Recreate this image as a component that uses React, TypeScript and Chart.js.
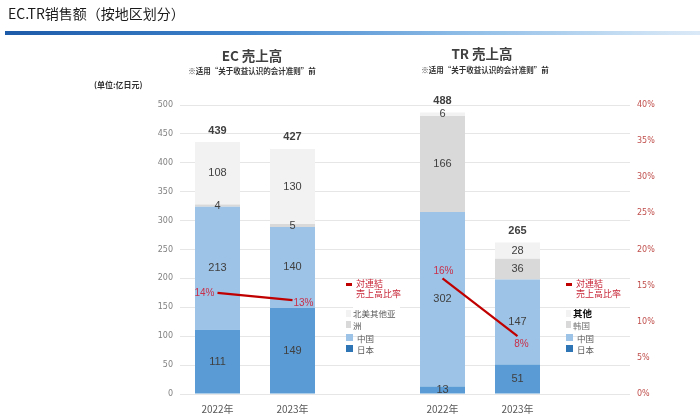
import React, { useEffect, useRef } from "react";
import { Chart, registerables } from "chart.js";

Chart.register(...registerables);

// ---- data ----
const categories = ["2022年", "2023年", "", "2022年", "2023年", ""];
const japan = [111, 149, null, 13, 51, null];
const china = [213, 140, null, 302, 147, null];
const secondRegion = [4, 5, null, 166, 36, null]; // EC: 北美其他亚洲 / TR: 韩国
const others = [108, 130, null, 6, 28, null]; // 其他
const totals = [439, 427, null, 488, 265, null];
const ecRatio = [14, 13, null, null, null, null];
const trRatio = [null, null, null, 16, 8, null];
const leftMax = 500;
const leftStep = 50;
const rightMax = 40;
const rightStep = 5;

const labelFont = "'Liberation Sans', Arial, sans-serif";

const labelPlugin = {
  id: "valueLabels",
  afterDatasetsDraw(chart: any) {
    const ctx = chart.ctx;
    ctx.save();
    ctx.textAlign = "center";
    ctx.textBaseline = "middle";
    ctx.fillStyle = "#404040";
    ctx.font = `11px ${labelFont}`;
    chart.data.datasets.forEach((ds: any, di: number) => {
      if (ds.type !== "bar") return;
      const meta = chart.getDatasetMeta(di);
      meta.data.forEach((el: any, i: number) => {
        const v = ds.data[i];
        if (v == null) return;
        const p = el.getProps(["x", "y", "base"], true);
        ctx.fillText(String(v), p.x, (p.y + p.base) / 2);
      });
    });
    // totals above the top segment
    const topIdx = chart.data.datasets.findIndex((d: any) => d.id === "others");
    const topMeta = chart.getDatasetMeta(topIdx);
    ctx.font = `bold 11px ${labelFont}`;
    totals.forEach((t, i) => {
      if (t == null) return;
      const el = topMeta.data[i];
      const p = el.getProps(["x", "y"], true);
      ctx.fillText(String(t), p.x, p.y - 11.5);
    });
    // ratio labels
    ctx.font = `10px ${labelFont}`;
    ctx.fillStyle = "#c8304a";
    const offsets: Record<string, any[]> = {
      ec: [
        { dx: -3, dy: 0, align: "right" },
        { dx: 1, dy: 3, align: "left" },
      ],
      tr: [
        { dx: 1, dy: -7, align: "center" },
        { dx: 4, dy: 8, align: "center" },
      ],
    };
    chart.data.datasets.forEach((ds: any, di: number) => {
      if (ds.type !== "line") return;
      const meta = chart.getDatasetMeta(di);
      let k = 0;
      meta.data.forEach((el: any, i: number) => {
        const v = ds.data[i];
        if (v == null) return;
        const o = offsets[ds.id][k++];
        ctx.textAlign = o.align;
        const p = el.getProps(["x", "y"], true);
        ctx.fillText(v + "%", p.x + o.dx, p.y + o.dy);
      });
    });
    ctx.restore();
  },
};

const abs = (s: React.CSSProperties): React.CSSProperties => ({
  position: "absolute",
  whiteSpace: "nowrap",
  ...s,
});

const cjk = "'Noto Sans CJK SC', 'Noto Sans', sans-serif";
const cjkJP = "'Noto Sans CJK JP', 'Noto Sans', sans-serif";

function Legend({ x, rows, boxTextX }: { x: number; rows: any[]; boxTextX: number }) {
  return (
    <>
      <div style={abs({ left: x, top: 283, width: 6, height: 2.5, background: "#c00000" })} />
      <div style={abs({ left: x + 10, top: 278.5, fontSize: 9, lineHeight: "10px", color: "#c8283a", fontFamily: cjkJP })}>
        対連結
        <br />
        売上高比率
      </div>
      {rows.map((r, i) => (
        <React.Fragment key={i}>
          <div style={abs({ left: x, top: r.y - 3.5, width: r.w, height: 7, background: r.color })} />
          <div
            style={abs({
              left: x + r.tx,
              top: r.y - 6,
              fontSize: r.size,
              lineHeight: "12px",
              color: r.textColor,
              fontWeight: r.bold ? "bold" : "normal",
              fontFamily: cjk,
              background: r.bg || "transparent",
              paddingRight: r.bg ? 4 : 0,
            })}
          >
            {r.text}
          </div>
        </React.Fragment>
      ))}
    </>
  );
}

export default function App() {
  const ref = useRef<HTMLCanvasElement | null>(null);

  useEffect(() => {
    if (!ref.current) return;
    const chart = new Chart(ref.current, {
      type: "bar",
      data: {
        labels: categories,
        datasets: [
          { id: "ec", type: "line", data: ecRatio, yAxisID: "y2", borderColor: "#c00000", borderWidth: 2.2, pointRadius: 0, order: 0, spanGaps: false } as any,
          { id: "tr", type: "line", data: trRatio, yAxisID: "y2", borderColor: "#c00000", borderWidth: 2.2, pointRadius: 0, order: 0, spanGaps: false } as any,
          { id: "japan", type: "bar", data: japan, backgroundColor: "#5b9bd5", yAxisID: "y", order: 1, stack: "s" } as any,
          { id: "china", type: "bar", data: china, backgroundColor: "#9dc3e6", yAxisID: "y", order: 1, stack: "s" } as any,
          { id: "second", type: "bar", data: secondRegion, backgroundColor: "#d9d9d9", yAxisID: "y", order: 1, stack: "s" } as any,
          { id: "others", type: "bar", data: others, backgroundColor: "#f2f2f2", yAxisID: "y", order: 1, stack: "s" } as any,
        ],
      },
      options: {
        responsive: false,
        animation: false,
        devicePixelRatio: 1,
        datasets: { bar: { categoryPercentage: 1, barPercentage: 0.6 } } as any,
        layout: { padding: { left: 140, right: 0, top: 105, bottom: 0 } },
        plugins: { legend: { display: false }, tooltip: { enabled: false } },
        scales: {
          x: {
            stacked: true,
            grid: { display: false, drawTicks: false },
            border: { display: false },
            ticks: { color: "#595959", font: { size: 10, family: cjk }, padding: 9, maxRotation: 0 },
            afterFit: (s: any) => {
              s.height = 26;
            },
          },
          y: {
            stacked: true,
            position: "left",
            min: 0,
            max: leftMax,
            grid: { color: "#e6e6e6", drawTicks: false },
            border: { display: false },
            ticks: { stepSize: leftStep, color: "#808080", font: { size: 8, family: "'DejaVu Sans', sans-serif" }, padding: 7 },
            afterFit: (s: any) => {
              s.width = 40;
            },
          },
          y2: {
            position: "right",
            min: 0,
            max: rightMax,
            grid: { display: false, drawTicks: false },
            border: { display: false },
            ticks: {
              stepSize: rightStep,
              color: "#c0504d",
              font: { size: 8, family: "'DejaVu Sans', sans-serif" },
              padding: 7,
              callback: (v: any) => v + "%",
            },
            afterFit: (s: any) => {
              s.width = 70;
            },
          },
        } as any,
      },
      plugins: [labelPlugin],
    } as any);
    return () => chart.destroy();
  }, []);

  const ecRows = [
    { y: 313, w: 5, color: "#f2f2f2", tx: 7, text: "北美其他亚", size: 8.5, textColor: "#595959", bg: "#fff" },
    { y: 324.5, w: 5, color: "#d9d9d9", tx: 7, text: "洲", size: 8.5, textColor: "#595959", bg: "#fff" },
    { y: 337.5, w: 7, color: "#9dc3e6", tx: 11, text: "中国", size: 8.5, textColor: "#595959" },
    { y: 348.5, w: 7, color: "#2e75b6", tx: 11, text: "日本", size: 8.5, textColor: "#595959" },
  ];
  const trRows = [
    { y: 313, w: 5, color: "#f2f2f2", tx: 7, text: "其他", size: 9.5, textColor: "#111", bold: true },
    { y: 324.5, w: 5, color: "#d9d9d9", tx: 7, text: "韩国", size: 8.5, textColor: "#707070" },
    { y: 337.5, w: 7, color: "#9dc3e6", tx: 11, text: "中国", size: 8.5, textColor: "#595959" },
    { y: 348.5, w: 7, color: "#2e75b6", tx: 11, text: "日本", size: 8.5, textColor: "#595959" },
  ];

  return (
    <div style={{ position: "absolute", left: 0, top: 0, width: 700, height: 420, background: "#fff", overflow: "hidden" }}>
      <canvas ref={ref} width={700} height={420} style={{ position: "absolute", left: 0, top: 0, width: 700, height: 420 }} />
      <div style={abs({ left: 8, top: 4, fontSize: 14, lineHeight: "18px", color: "#1a1a1a", fontFamily: cjk })}>
        EC.TR销售额（按地区划分）
      </div>
      <div
        style={abs({
          left: 5,
          top: 31,
          width: 695,
          height: 4,
          background: "linear-gradient(to right, #1d5aa8 0%, #3f84cc 35%, #8cbbe6 65%, #c6def3 90%, #dbe9f7 100%)",
        })}
      />
      <div style={abs({ left: 152, width: 200, textAlign: "center", top: 46, fontSize: 13.5, fontWeight: "bold", lineHeight: "18px", color: "#404040", fontFamily: cjkJP })}>
        EC 売上高
      </div>
      <div style={abs({ left: 152, width: 200, textAlign: "center", top: 66, fontSize: 7.5, fontWeight: "bold", lineHeight: "10px", color: "#333", fontFamily: cjk })}>
        ※适用“关于收益认识的会计准则”前
      </div>
      <div style={abs({ left: 94, top: 80, fontSize: 8, fontWeight: "bold", lineHeight: "10px", color: "#333", fontFamily: cjk })}>
        (单位:亿日元)
      </div>
      <div style={abs({ left: 382, width: 200, textAlign: "center", top: 44, fontSize: 13.5, fontWeight: "bold", lineHeight: "18px", color: "#404040", fontFamily: cjkJP })}>
        TR 売上高
      </div>
      <div style={abs({ left: 385, width: 200, textAlign: "center", top: 65, fontSize: 7.5, fontWeight: "bold", lineHeight: "10px", color: "#333", fontFamily: cjk })}>
        ※适用“关于收益认识的会计准则”前
      </div>
      <Legend x={346} rows={ecRows} boxTextX={0} />
      <Legend x={566} rows={trRows} boxTextX={0} />
    </div>
  );
}
